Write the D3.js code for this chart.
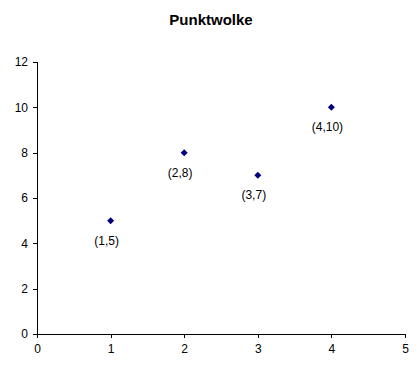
<!DOCTYPE html>
<html>
<head>
<meta charset="utf-8">
<script src="https://cdn.jsdelivr.net/npm/d3@7"></script>
<style>
body { margin: 0; background: #fff; }
text { font-family: "Liberation Sans", Arial, sans-serif; }
</style>
</head>
<body>
<svg width="420" height="372"></svg>
<script>
var xValues = [1, 2, 3, 4];
var yValues = [5, 8, 7, 10];
var pointLabels = ['(1,5)', '(2,8)', '(3,7)', '(4,10)'];
var xTicks = [0, 1, 2, 3, 4, 5];
var yTicks = [0, 2, 4, 6, 8, 10, 12];

var svg = d3.select('svg');

var ScaleX = d3.scaleLinear().domain([0, 5]).range([37, 405]);
var ScaleY = d3.scaleLinear().domain([0, 12]).range([334, 62]);

// title
svg.append('text')
    .attr('x', 211)
    .attr('y', 25)
    .attr('text-anchor', 'middle')
    .style('font-size', '15px')
    .style('font-weight', 'bold')
    .text('Punktwolke');

// axes
var xAxis = svg.append('g')
    .attr('transform', 'translate(0,334)')
    .call(d3.axisBottom(ScaleX).tickValues(xTicks).tickFormat(d3.format('d')).tickSize(4).tickPadding(6));
var yAxis = svg.append('g')
    .attr('transform', 'translate(37,0)')
    .call(d3.axisLeft(ScaleY).tickValues(yTicks).tickFormat(d3.format('d')).tickSize(4).tickPadding(5));

[xAxis, yAxis].forEach(function(a){
    a.select('.domain').attr('stroke', '#000').attr('shape-rendering', 'crispEdges');
    a.selectAll('line').attr('stroke', '#000').attr('shape-rendering', 'crispEdges');
    a.selectAll('text').style('font-size', '12px').attr('fill', '#000')
        .style('font-family', '"Liberation Sans", Arial, sans-serif');
});

var data = xValues.map(function(x, i){
    return { x: x, y: yValues[i], label: pointLabels[i] };
});

// diamond markers
svg.selectAll('.pt')
    .data(data)
    .enter()
    .append('path')
    .attr('class', 'pt')
    .attr('d', 'M0,-3.5L3.5,0L0,3.5L-3.5,0Z')
    .attr('transform', function(d){
        return 'translate(' + ScaleX(d.x) + ',' + ScaleY(d.y) + ')';
    })
    .attr('fill', '#000080');

// data labels
svg.selectAll('.lbl')
    .data(data)
    .enter()
    .append('text')
    .attr('class', 'lbl')
    .attr('x', function(d){ return ScaleX(d.x) - 4; })
    .attr('y', function(d){ return ScaleY(d.y) + 24; })
    .attr('text-anchor', 'middle')
    .style('font-size', '12px')
    .text(function(d){ return d.label; });
</script>
</body>
</html>
